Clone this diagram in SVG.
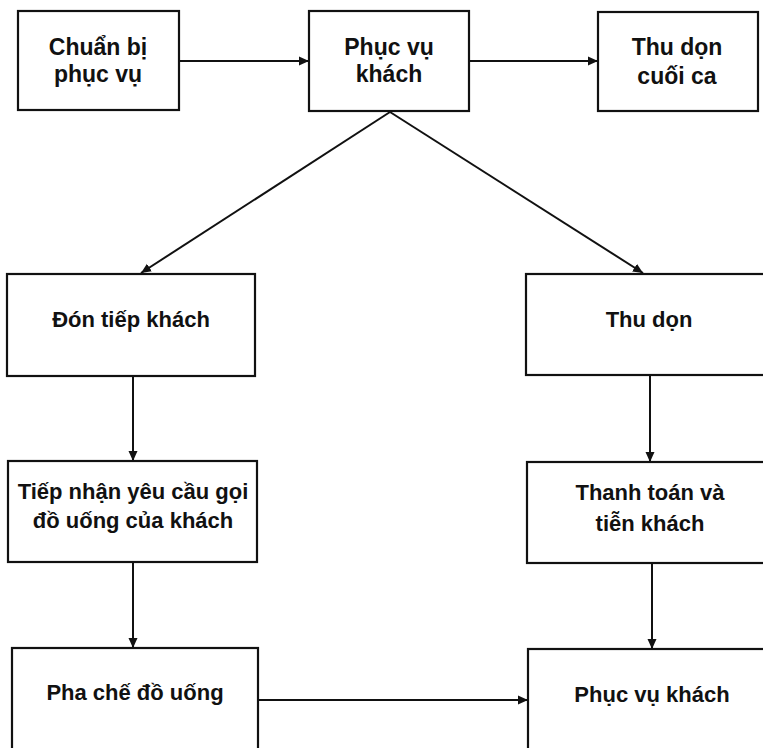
<svg xmlns="http://www.w3.org/2000/svg" width="763" height="748" viewBox="0 0 763 748">
<defs>
<marker id="ah" viewBox="0 0 10 10" refX="10" refY="5" markerWidth="10" markerHeight="10" markerUnits="userSpaceOnUse" orient="auto">
<path d="M0,0.5 L10,5 L0,9.5 z" fill="#111"/>
</marker>
<style>
rect{fill:#fff;stroke:#111;stroke-width:2.2}
text{font-family:"Liberation Sans",Arial,sans-serif;font-weight:bold;font-size:22px;fill:#111;text-anchor:middle}
.big{font-size:23px}
#connectors line{stroke:#111;stroke-width:2;marker-end:url(#ah)}
</style>
</defs>
<rect x="0" y="0" width="763" height="748" style="fill:#fff;stroke:none"/>
<g id="connectors">
<line x1="179" y1="61" x2="309" y2="61"/>
<line x1="469" y1="61" x2="598" y2="61"/>
<line x1="390" y1="112" x2="141" y2="273"/>
<line x1="390" y1="112" x2="643" y2="273"/>
<line x1="133" y1="376" x2="133" y2="461"/>
<line x1="650" y1="375" x2="650" y2="462"/>
<line x1="133" y1="562" x2="133" y2="648"/>
<line x1="652" y1="563" x2="652" y2="649"/>
<line x1="258" y1="700" x2="528" y2="700"/>
</g>
<g id="chuan-bi">
<rect x="18" y="11" width="161" height="99"/>
<text class="big" x="98" y="55">Chuẩn bị</text>
<text class="big" x="98" y="82">phục vụ</text>
</g>
<g id="phuc-vu-top">
<rect x="309" y="11" width="160" height="100"/>
<text class="big" x="389" y="55">Phục vụ</text>
<text class="big" x="389" y="82">khách</text>
</g>
<g id="thu-don-cuoi-ca">
<rect x="598" y="12" width="160" height="99"/>
<text class="big" x="677" y="55">Thu dọn</text>
<text class="big" x="677" y="84">cuối ca</text>
</g>
<g id="don-tiep">
<rect x="7" y="274" width="248" height="102"/>
<text x="131" y="327">Đón tiếp khách</text>
</g>
<g id="thu-don">
<rect x="526" y="274" width="250" height="101"/>
<text x="649" y="327">Thu dọn</text>
</g>
<g id="tiep-nhan">
<rect x="8" y="461" width="249" height="101"/>
<text x="133" y="499">Tiếp nhận yêu cầu gọi</text>
<text x="133" y="528">đồ uống của khách</text>
</g>
<g id="thanh-toan">
<rect x="527" y="462" width="250" height="101"/>
<text x="650" y="500">Thanh toán và</text>
<text x="650" y="531">tiễn khách</text>
</g>
<g id="pha-che">
<rect x="12" y="648" width="246" height="120"/>
<text x="135" y="700">Pha chế đồ uống</text>
</g>
<g id="phuc-vu-bottom">
<rect x="528" y="649" width="250" height="120"/>
<text x="652" y="702">Phục vụ khách</text>
</g>
</svg>
